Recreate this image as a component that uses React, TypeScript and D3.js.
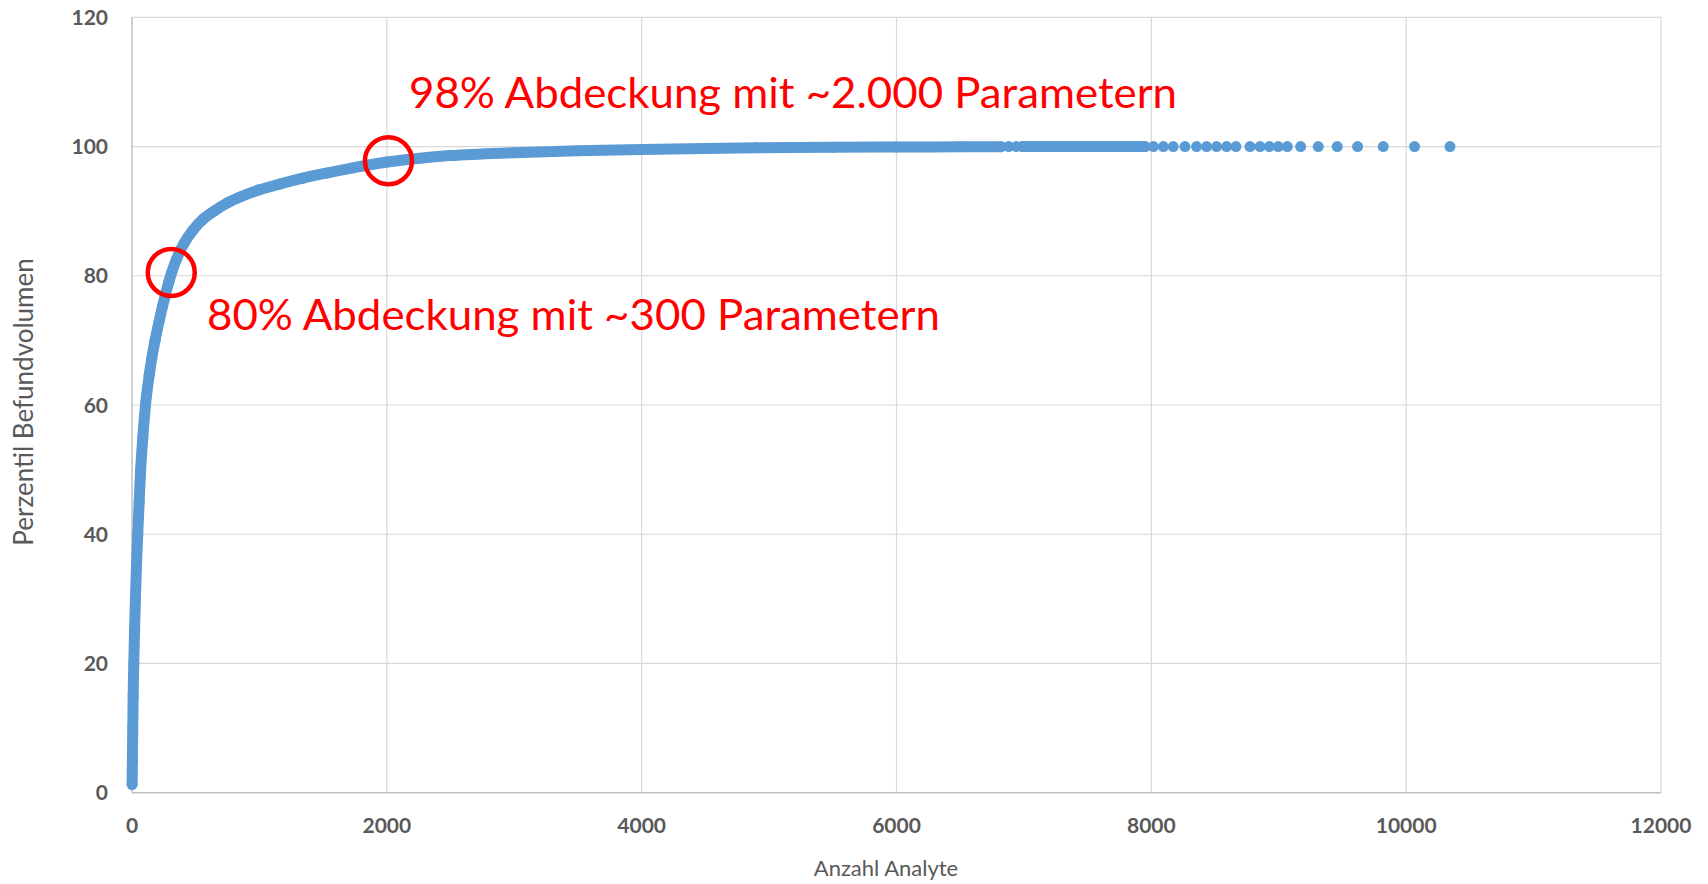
import React, { useEffect, useRef } from 'react';
import * as d3 from 'd3';

// dense part of the cumulative curve (Anzahl Analyte -> Perzentil)
const curveX = [1, 3, 6, 9, 14, 20, 27, 35, 45, 56, 68, 85, 106, 135, 155, 181, 212, 240, 264, 290, 311, 350, 408, 480, 560, 651, 750, 848, 1000, 1161, 1340, 1528, 1735, 2000, 2260, 2500, 3000, 3500, 4000, 4500, 4900, 5500, 6000, 6500, 6820];
const curveY = [1.3, 5, 10, 15, 20, 25, 30, 35, 40, 45, 50, 55, 60, 64.6, 67.2, 70, 72.9, 75.3, 77.2, 79.1, 80.5, 82.6, 85, 87.1, 88.8, 90.1, 91.3, 92.2, 93.3, 94.2, 95.1, 95.9, 96.7, 97.6, 98.2, 98.6, 99.05, 99.35, 99.55, 99.7, 99.8, 99.88, 99.92, 99.95, 99.97];

// second dense run at 100 %
const runX = [6990, 7950];
const runY = [100, 100];

// single, separated points in the tail
const tailX = [6880, 6940, 8016, 8094, 8172, 8264, 8355, 8434, 8512, 8591, 8664, 8774, 8853, 8926, 8996, 9067, 9172, 9310, 9459, 9619, 9820, 10066, 10344];
const tailY = 100;

const xTicks = [0, 2000, 4000, 6000, 8000, 10000, 12000];
const yTicks = [0, 20, 40, 60, 80, 100, 120];

const markX = [308, 2013];
const markY = [80.5, 97.8];
const notes = ['98% Abdeckung mit ~2.000 Parametern', '80% Abdeckung mit ~300 Parametern'];

const W = 1708;
const H = 884;
const FONT = 'Lato, "Open Sans", sans-serif';

const App: React.FC = () => {
  const svgRef = useRef<SVGSVGElement>(null);

  useEffect(() => {
    if (!svgRef.current) return;
    const svg = d3.select(svgRef.current);
    svg.selectAll('*').remove();

    const x = d3.scaleLinear().domain([0, 12000]).range([132, 1661]);
    const y = d3.scaleLinear().domain([0, 120]).range([792.7, 17.3]);

    // grid
    svg.append('g')
      .selectAll('line.gx')
      .data(xTicks.slice(1))
      .enter()
      .append('line')
      .attr('x1', d => x(d)).attr('x2', d => x(d))
      .attr('y1', y(0)).attr('y2', y(120))
      .attr('stroke', '#d9d9d9').attr('stroke-width', 1.2);

    svg.append('g')
      .selectAll('line.gy')
      .data(yTicks.slice(1))
      .enter()
      .append('line')
      .attr('x1', x(0)).attr('x2', x(12000))
      .attr('y1', d => y(d)).attr('y2', d => y(d))
      .attr('stroke', '#d9d9d9').attr('stroke-width', 1.2);

    // axis lines
    svg.append('line')
      .attr('x1', x(0)).attr('x2', x(12000)).attr('y1', y(0)).attr('y2', y(0))
      .attr('stroke', '#bfbfbf').attr('stroke-width', 1.5);
    svg.append('line')
      .attr('x1', x(0)).attr('x2', x(0)).attr('y1', y(0)).attr('y2', y(120))
      .attr('stroke', '#bfbfbf').attr('stroke-width', 1.5);

    // tick labels
    svg.append('g')
      .selectAll('text')
      .data(xTicks)
      .enter()
      .append('text')
      .text(d => d)
      .attr('x', d => x(d))
      .attr('y', 833)
      .attr('text-anchor', 'middle')
      .attr('fill', '#595959')
      .style('font-family', FONT)
      .style('font-weight', 'bold')
      .style('font-size', '21px');

    svg.append('g')
      .selectAll('text')
      .data(yTicks)
      .enter()
      .append('text')
      .text(d => d)
      .attr('x', 108)
      .attr('y', d => y(d) + 7.5)
      .attr('text-anchor', 'end')
      .attr('fill', '#595959')
      .style('font-family', FONT)
      .style('font-weight', 'bold')
      .style('font-size', '21px');

    // axis titles
    svg.append('text')
      .text('Anzahl Analyte')
      .attr('x', 886).attr('y', 876)
      .attr('text-anchor', 'middle')
      .attr('fill', '#595959')
      .style('font-family', FONT)
      .style('font-size', '22px');

    svg.append('text')
      .text('Perzentil Befundvolumen')
      .attr('transform', 'translate(33,402) rotate(-90)')
      .attr('text-anchor', 'middle')
      .attr('fill', '#595959')
      .style('font-family', FONT)
      .style('font-size', '26px');

    // series
    const pts = curveX.map((d, i) => [d, curveY[i]] as [number, number]);
    const run = runX.map((d, i) => [d, runY[i]] as [number, number]);
    const line = d3.line<[number, number]>()
      .x(d => x(d[0]))
      .y(d => y(d[1]))
      .curve(d3.curveMonotoneX);

    [pts, run].forEach(seg => {
      svg.append('path')
        .attr('d', line(seg) || '')
        .attr('fill', 'none')
        .attr('stroke', '#5b9bd5')
        .attr('stroke-width', 11)
        .attr('stroke-linecap', 'round')
        .attr('stroke-linejoin', 'round');
    });

    svg.append('g')
      .selectAll('circle')
      .data([...pts, ...run, ...tailX.map(d => [d, tailY] as [number, number])])
      .enter()
      .append('circle')
      .attr('cx', d => x(d[0]))
      .attr('cy', d => y(d[1]))
      .attr('r', 5.5)
      .attr('fill', '#5b9bd5');

    // markers
    svg.append('g')
      .selectAll('circle')
      .data(markX.map((d, i) => [d, markY[i]]))
      .enter()
      .append('circle')
      .attr('cx', d => x(d[0]))
      .attr('cy', d => y(d[1]))
      .attr('r', 23.5)
      .attr('fill', 'none')
      .attr('stroke', '#ff0000')
      .attr('stroke-width', 4.5);

    // notes
    const notePos = [[409, 108, 768], [207, 330, 733]];
    svg.append('g')
      .selectAll('text')
      .data(notes)
      .enter()
      .append('text')
      .text(d => d)
      .attr('x', (d, i) => notePos[i][0])
      .attr('y', (d, i) => notePos[i][1])
      .attr('textLength', (d, i) => notePos[i][2])
      .attr('lengthAdjust', 'spacingAndGlyphs')
      .attr('fill', '#ff0000')
      .style('font-family', FONT)
      .style('font-size', '43px');
  }, []);

  return (
    <svg
      ref={svgRef}
      width={W}
      height={H}
      viewBox={`0 0 ${W} ${H}`}
      style={{ position: 'absolute', left: 0, top: 0, background: '#fff' }}
    />
  );
};

export default App;
